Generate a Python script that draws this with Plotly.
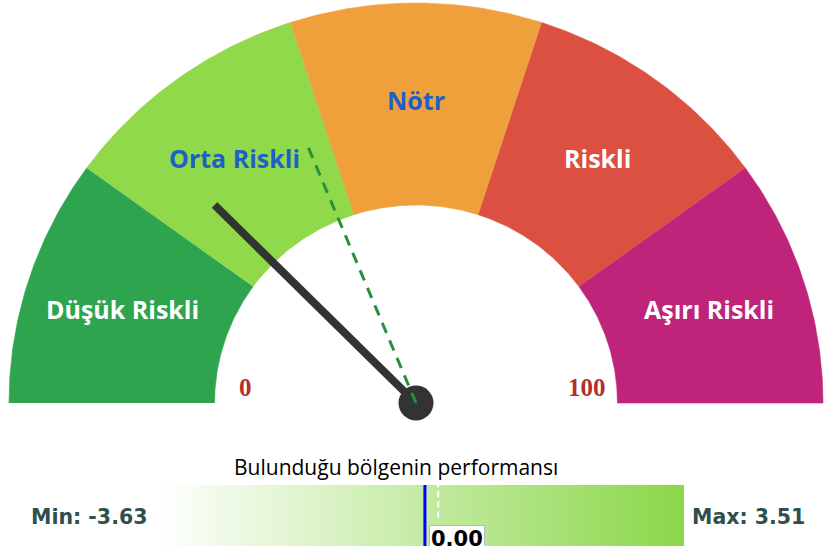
import numpy as np
import plotly.graph_objects as go

# ---------------- data ----------------
categories = ["Düşük Riskli", "Orta Riskli", "Nötr", "Riskli", "Aşırı Riskli"]
bounds = [0, 20, 40, 60, 80, 100]
sector_colors = ["#2ea44f", "#8fd94a", "#f0a03b", "#dc5042", "#c0237a"]
label_colors = ["#ffffff", "#1f5fc8", "#1f5fc8", "#ffffff", "#ffffff"]
scale_min, scale_max = 0, 100
needle_value = 25
reference_value = 37.5

perf_title = "Bulunduğu bölgenin performansı"
perf_min = -3.63
perf_max = 3.51
perf_value = 0.00
perf_ref = 0.18

# ---------------- geometry helpers ----------------
R_OUT, R_IN = 1.0, 0.495
R_LABEL = 0.757
R_NEEDLE = 0.70


def ang(v):
    return np.pi * (1 - (v - scale_min) / (scale_max - scale_min))


fig = go.Figure()

# gauge sectors
for i, name in enumerate(categories):
    lo, hi = bounds[i], bounds[i + 1]
    t = np.linspace(ang(lo), ang(hi), 80)
    xs = np.concatenate([R_OUT * np.cos(t), R_IN * np.cos(t[::-1])])
    ys = np.concatenate([R_OUT * np.sin(t), R_IN * np.sin(t[::-1])])
    fig.add_trace(go.Scatter(x=xs, y=ys, fill="toself", mode="lines",
                             fillcolor=sector_colors[i],
                             line=dict(color=sector_colors[i], width=0.6),
                             hoverinfo="skip", showlegend=False))
    mid = ang((lo + hi) / 2)
    fig.add_annotation(x=R_LABEL * np.cos(mid), y=R_LABEL * np.sin(mid),
                       text="<b>%s</b>" % name, showarrow=False,
                       font=dict(family="Open Sans", size=25, color=label_colors[i]))

# scale labels 0 / 100
for v in (scale_min, scale_max):
    a = ang(v)
    fig.add_annotation(x=0.42 * np.cos(a), y=0.42 * np.sin(a) + 0.04,
                       text="<b>%d</b>" % v, showarrow=False,
                       font=dict(family="Liberation Serif", size=25, color="#b3302f"))

# needle
a = ang(needle_value)
fig.add_trace(go.Scatter(x=[0, R_NEEDLE * np.cos(a)], y=[0, R_NEEDLE * np.sin(a)],
                         mode="lines", line=dict(color="#333333", width=8),
                         hoverinfo="skip", showlegend=False))
# hub
fig.add_trace(go.Scatter(x=[0], y=[0], mode="markers",
                         marker=dict(size=35, color="#333333"),
                         hoverinfo="skip", showlegend=False))
# reference dashed line
a = ang(reference_value)
fig.add_trace(go.Scatter(x=[0, 0.71 * np.cos(a)], y=[0, 0.71 * np.sin(a)],
                         mode="lines", line=dict(color="#28903a", width=3, dash="11px,8px"),
                         hoverinfo="skip", showlegend=False))

# ---------------- performance bar ----------------
N = 300
gx = np.linspace(perf_min, perf_max, N)
fig.add_trace(go.Heatmap(x=gx, y=[0, 1], z=[gx, gx],
                         colorscale=[[0, "#ffffff"], [1, "#8bd749"]],
                         showscale=False, hoverinfo="skip",
                         xaxis="x2", yaxis="y2"))

fig.add_shape(type="line", xref="x2", yref="y2", x0=perf_value, x1=perf_value,
              y0=0, y1=1, line=dict(color="#0000ff", width=3))
fig.add_shape(type="line", xref="x2", yref="y2", x0=perf_ref, x1=perf_ref,
              y0=0.47, y1=1, line=dict(color="#ffffff", width=2, dash="6px,4px"))

fig.add_annotation(x=perf_value, xref="x2", y=21 / 546, yref="paper",
                   xanchor="left", yanchor="top", xshift=4,
                   text="<b>%.2f</b>" % perf_value, showarrow=False,
                   bgcolor="#ffffff", bordercolor="#b8b8b8", borderwidth=1, borderpad=1,
                   font=dict(family="DejaVu Sans", size=21, color="#000000"))

fig.add_annotation(x=149 / 824, y=29 / 546, xref="paper", yref="paper",
                   xanchor="right", yanchor="middle",
                   text="<b>Min: %.2f</b>" % perf_min, showarrow=False,
                   font=dict(family="DejaVu Sans", size=20.5, color="#2f4f4f"))
fig.add_annotation(x=690 / 824, y=29 / 546, xref="paper", yref="paper",
                   xanchor="left", yanchor="middle",
                   text="<b>Max: %.2f</b>" % perf_max, showarrow=False,
                   font=dict(family="DejaVu Sans", size=20.5, color="#2f4f4f"))
fig.add_annotation(x=396 / 824, y=79 / 546, xref="paper", yref="paper",
                   xanchor="center", yanchor="middle",
                   text=perf_title, showarrow=False,
                   font=dict(family="Open Sans", size=21, color="#000000"))

# ---------------- layout ----------------
cx, cy = 416, 403
rx, ry = 407, 400
W, H = 824, 546
fig.update_layout(
    width=W, height=H,
    margin=dict(l=0, r=0, t=0, b=0),
    paper_bgcolor="#ffffff", plot_bgcolor="rgba(0,0,0,0)",
    showlegend=False,
    xaxis=dict(domain=[0, 1], range=[-cx / rx, (W - cx) / rx], visible=False, fixedrange=True),
    yaxis=dict(domain=[0, 1], range=[-(H - cy) / ry, cy / ry], visible=False, fixedrange=True),
    xaxis2=dict(domain=[157 / W, 684 / W], range=[perf_min, perf_max], visible=False,
                anchor="y2", fixedrange=True),
    yaxis2=dict(domain=[0, (H - 485) / H], range=[0, 1], visible=False,
                anchor="x2", fixedrange=True),
)

fig.write_html("out.html", config={"displayModeBar": False},
               post_script="document.body.style.margin='0';document.body.style.overflow='hidden';")
